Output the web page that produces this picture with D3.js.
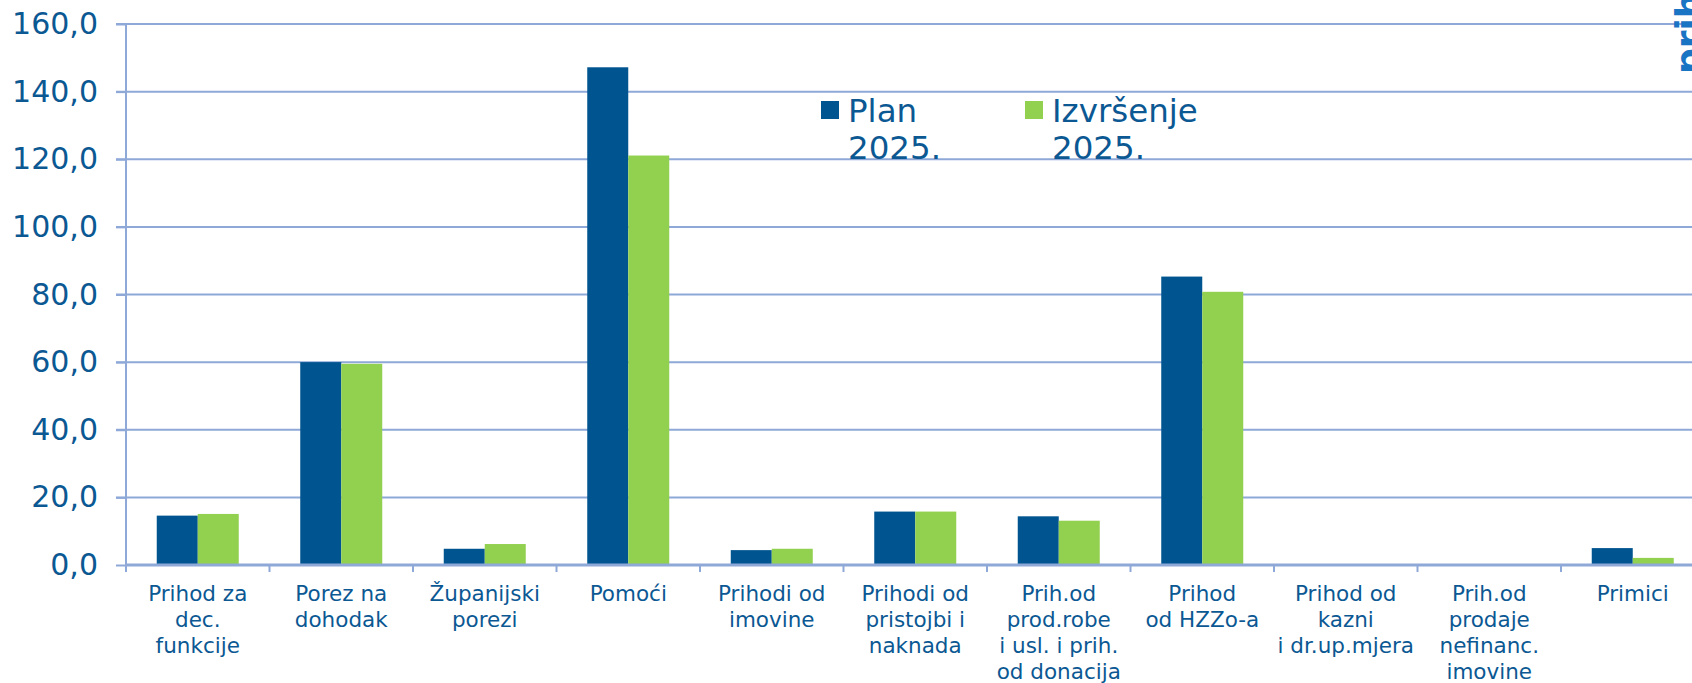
<!DOCTYPE html>
<html>
<head>
<meta charset="utf-8">
<script src="https://cdn.jsdelivr.net/npm/d3@7.9.0/dist/d3.min.js"></script>
<style>
  html, body { margin: 0; padding: 0; background: #fff; }
  svg { display: block; font-family: "DejaVu Sans", Verdana, sans-serif; }
</style>
</head>
<body>
<svg id="chart" width="1692" height="683"></svg>
<script>
// chart data
const categories = [
  ['Prihod za', 'dec.', 'funkcije'],
  ['Porez na', 'dohodak'],
  ['Županijski', 'porezi'],
  ['Pomoći'],
  ['Prihodi od', 'imovine'],
  ['Prihodi od', 'pristojbi i', 'naknada'],
  ['Prih.od', 'prod.robe', 'i usl. i prih.', 'od donacija'],
  ['Prihod', 'od HZZo-a'],
  ['Prihod od', 'kazni', 'i dr.up.mjera'],
  ['Prih.od', 'prodaje', 'nefinanc.', 'imovine'],
  ['Primici']
];
const plan2025 = [14.6, 60.0, 4.8, 147.2, 4.4, 15.8, 14.4, 85.3, 0, 0, 5.0];
const izvrsenje2025 = [15.1, 59.5, 6.2, 121.1, 4.8, 15.8, 13.1, 80.8, 0, 0, 2.1];
const seriesNames = [['Plan', '2025.'], ['Izvršenje', '2025.']];
const yTicks = [0, 20, 40, 60, 80, 100, 120, 140, 160];

const textColor = '#0b5893';
const gridColor = '#8ea8d8';
const colors = ['#00548f', '#92d050'];

const svg = d3.select('#chart');
const plotLeft = 126, plotRight = 1704.5, plotTop = 24, plotBottom = 565;

const x = d3.scaleBand()
  .domain(d3.range(categories.length))
  .range([plotLeft, plotRight])
  .padding(0);

const x1 = d3.scaleBand()
  .domain([0, 1])
  .range([0, x.bandwidth()])
  .paddingInner(0)
  .paddingOuter(0.75);

const y = d3.scaleLinear().domain([0, 160]).range([plotBottom, plotTop]);

// gridlines
svg.append('g')
  .selectAll('line')
  .data(yTicks.filter((d) => d > 0))
  .join('line')
  .attr('x1', plotLeft - 10)
  .attr('x2', plotRight)
  .attr('y1', (d) => y(d))
  .attr('y2', (d) => y(d))
  .attr('stroke', gridColor)
  .attr('stroke-width', 2);

// y axis
const yAxis = svg.append('g')
  .attr('transform', `translate(${plotLeft},0)`)
  .call(
    d3.axisLeft(y)
      .tickValues(yTicks)
      .tickSize(10)
      .tickPadding(18)
      .tickFormat((d) => d3.format('.1f')(d).replace('.', ','))
  );
yAxis.select('.domain').remove();
yAxis.selectAll('.tick line').attr('stroke', gridColor).attr('stroke-width', 2);
yAxis.selectAll('.tick text')
  .attr('fill', textColor)
  .attr('font-size', 30)
  .attr('font-family', '"DejaVu Sans", Verdana, sans-serif');

svg.append('line')
  .attr('x1', plotLeft).attr('x2', plotLeft)
  .attr('y1', plotTop).attr('y2', plotBottom + 7)
  .attr('stroke', gridColor)
  .attr('stroke-width', 2);

// bars
const groups = svg.append('g')
  .selectAll('g')
  .data(categories.map((c, i) => i))
  .join('g')
  .attr('transform', (i) => `translate(${x(i)},0)`);

groups.selectAll('rect')
  .data((i) => [plan2025[i], izvrsenje2025[i]])
  .join('rect')
  .attr('x', (d, j) => x1(j))
  .attr('width', x1.bandwidth())
  .attr('y', (d) => y(d))
  .attr('height', (d) => y(0) - y(d))
  .attr('fill', (d, j) => colors[j]);

// x axis line and category ticks
svg.append('line')
  .attr('x1', plotLeft).attr('x2', plotRight)
  .attr('y1', plotBottom).attr('y2', plotBottom)
  .attr('stroke', gridColor)
  .attr('stroke-width', 3);

svg.append('g')
  .selectAll('line')
  .data(d3.range(categories.length + 1))
  .join('line')
  .attr('x1', (i) => plotLeft + i * x.step())
  .attr('x2', (i) => plotLeft + i * x.step())
  .attr('y1', plotBottom)
  .attr('y2', plotBottom + 7)
  .attr('stroke', gridColor)
  .attr('stroke-width', 2);

// category labels
svg.append('g')
  .selectAll('text')
  .data(categories)
  .join('text')
  .attr('text-anchor', 'middle')
  .attr('fill', textColor)
  .attr('font-size', 21.5)
  .each(function (lines, i) {
    d3.select(this)
      .selectAll('tspan')
      .data(lines)
      .join('tspan')
      .attr('x', x(i) + x.bandwidth() / 2)
      .attr('y', (d, k) => 601 + k * 26)
      .text((d) => d);
  });

// legend
const legendX = [821, 1025];
const legend = svg.append('g')
  .selectAll('g')
  .data(seriesNames)
  .join('g')
  .attr('transform', (d, i) => `translate(${legendX[i]},101)`);

legend.append('rect')
  .attr('width', 18)
  .attr('height', 18)
  .attr('fill', (d, i) => colors[i]);

legend.append('text')
  .attr('fill', textColor)
  .attr('font-size', 32.5)
  .selectAll('tspan')
  .data((d) => d)
  .join('tspan')
  .attr('x', 27)
  .attr('y', (d, k) => 21 + k * 37)
  .text((d) => d);

// clipped slide text at the right edge
svg.append('text')
  .attr('transform', 'translate(1701,74) rotate(-90)')
  .attr('fill', '#1a74c4')
  .attr('font-size', 36)
  .attr('font-weight', 'bold')
  .text('prihodi');
</script>
</body>
</html>
